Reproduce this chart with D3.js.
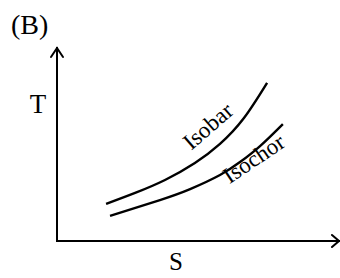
<!DOCTYPE html>
<html>
<head>
<meta charset="utf-8">
<script src="https://cdn.jsdelivr.net/npm/d3@7"></script>
<style>
  body { margin: 0; background: #fff; }
  svg { display: block; }
  text { font-family: "Liberation Serif", "DejaVu Serif", serif; fill: #000; }
</style>
</head>
<body>
<div id="chart"></div>
<script>
// curve data in (S, T) units
const isobarS = [1.74, 2.77, 3.83, 4.89, 5.78, 6.63, 7.45]
const isobarT = [1.92, 2.49, 3.16, 4.04, 5.03, 6.37, 8.19]
const isochorS = [1.88, 3.65, 4.72, 5.78, 6.49, 7.20, 8.01]
const isochorT = [1.30, 2.12, 2.69, 3.42, 4.09, 4.92, 6.06]
const curveNames = ['Isobar', 'Isochor']
const axisTitles = ['S', 'T']
const panelTitle = '(B)'

const width = 340
const height = 278

const svg = d3.select('#chart')
  .append('svg')
  .attr('width', width)
  .attr('height', height)

const xScale = d3.scaleLinear().domain([0, 10]).range([57, 339])
const yScale = d3.scaleLinear().domain([0, 10]).range([241, 48])

// axes with open arrow heads
const x0 = xScale(0), y0 = yScale(0)
const xEnd = xScale(10), yEnd = yScale(10)

const axes = svg.append('g')
  .attr('stroke', '#000')
  .attr('stroke-width', 2)
  .attr('fill', 'none')
  .attr('stroke-linecap', 'square')

axes.append('path')
  .attr('d', `M${x0},${y0}V${yEnd}`)
axes.append('path')
  .attr('d', `M${x0},${y0}H${xEnd}`)
axes.append('path')
  .attr('stroke-linecap', 'round')
  .attr('d', `M${x0 - 6},${yEnd + 9}L${x0},${yEnd}L${x0 + 6},${yEnd + 9}`)
axes.append('path')
  .attr('stroke-linecap', 'round')
  .attr('d', `M${xEnd - 7},${y0 - 6}L${xEnd},${y0}L${xEnd - 7},${y0 + 6}`)

// curves
const line = d3.line()
  .x(d => xScale(d[0]))
  .y(d => yScale(d[1]))
  .curve(d3.curveNatural)

const series = [
  d3.zip(isobarS, isobarT),
  d3.zip(isochorS, isochorT)
]

svg.append('g')
  .selectAll('path')
  .data(series)
  .enter()
  .append('path')
  .attr('d', line)
  .attr('fill', 'none')
  .attr('stroke', '#000')
  .attr('stroke-width', 2.4)

// curve labels, placed next to a point of each curve
const labelAt = [
  { i: 4, dx: -7, dy: -12, angle: -41 },
  { i: 5, dx: -2, dy: 19, angle: -34 }
]

svg.append('g')
  .selectAll('text')
  .data(curveNames)
  .enter()
  .append('text')
  .text(d => d)
  .attr('font-size', 23)
  .attr('text-anchor', 'middle')
  .attr('transform', (d, k) => {
    const p = series[k][labelAt[k].i]
    const px = xScale(p[0]) + labelAt[k].dx
    const py = yScale(p[1]) + labelAt[k].dy
    return `translate(${px},${py}) rotate(${labelAt[k].angle})`
  })

// axis titles and panel title
svg.append('text')
  .text(axisTitles[0])
  .attr('font-size', 25)
  .attr('x', 176)
  .attr('y', 270)
  .attr('text-anchor', 'middle')

svg.append('text')
  .text(axisTitles[1])
  .attr('font-size', 27)
  .attr('x', 38)
  .attr('y', 113)
  .attr('text-anchor', 'middle')

svg.append('text')
  .text(panelTitle)
  .attr('font-size', 28)
  .attr('x', 11)
  .attr('y', 34)
</script>
</body>
</html>
